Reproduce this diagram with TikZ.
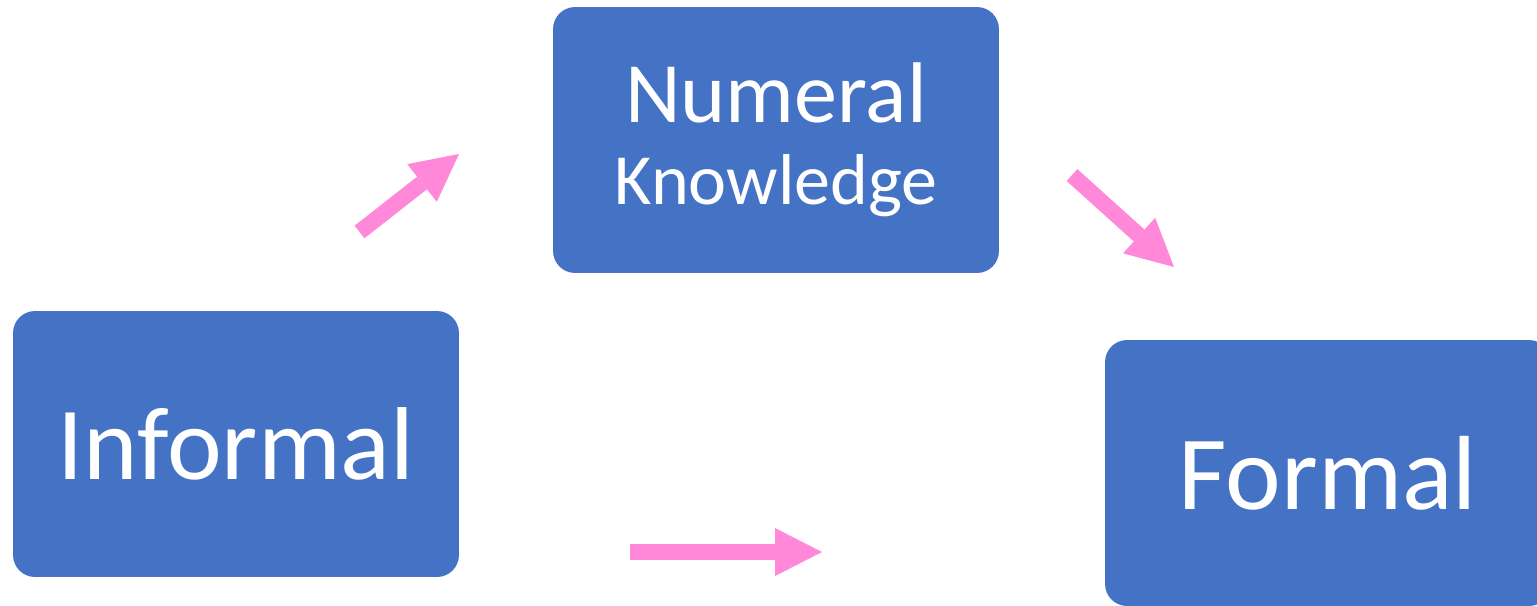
\documentclass[tikz,border=0pt]{standalone}
\usepackage{fontspec}
\setmainfont{Carlito}
\usetikzlibrary{arrows.meta}
\definecolor{boxblue}{HTML}{4472C4}
\definecolor{arrowpink}{RGB}{255,137,216}
\tikzset{
  stage/.style={fill=boxblue,text=white,rounded corners=0.44cm,
    minimum width=8.92cm,minimum height=5.32cm,inner sep=0pt},
  push/.style={draw=arrowpink,line width=0.32cm,
    -{Triangle[length=0.94cm,width=0.96cm,line width=0pt]}}
}
\begin{document}
\begin{tikzpicture}[x=0.02cm,y=-0.02cm]
\useasboundingbox (0,0) rectangle (1537,605);
% the three stages
\node[stage,font=\fontsize{59}{60}\selectfont] (informal) at (236,444) {Informal};
\node[stage,align=center,font=\fontsize{41}{47}\selectfont] (numeral) at (776,140)
  {{\fontsize{49}{47}\selectfont Numeral}\\Knowledge};
\node[stage,font=\fontsize{60}{60}\selectfont] (formal) at (1328,473) {Formal};
% arrows
\coordinate (up1) at (359.5,232);
\coordinate (up2) at (459,154);
\coordinate (down1) at (1072,175);
\coordinate (down2) at (1174,267);
\coordinate (across1) at (630,552);
\coordinate (across2) at (822,552);
\draw[push] (up1) -- (up2);
\draw[push] (down1) -- (down2);
\draw[push] (across1) -- (across2);
\end{tikzpicture}
\end{document}
